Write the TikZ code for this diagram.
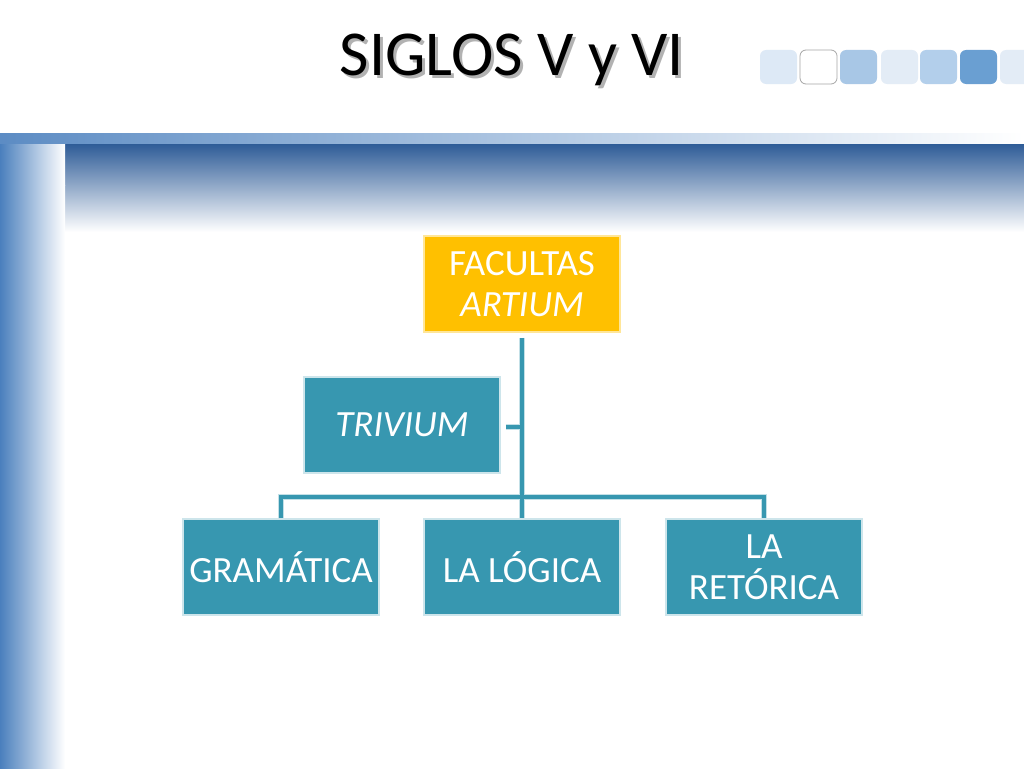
\documentclass[tikz,border=0pt]{standalone}
\usepackage{fontspec}
\setmainfont{Carlito}
\definecolor{teal1}{HTML}{3797B0}
\definecolor{gold1}{HTML}{FFC000}
\definecolor{dblue}{HTML}{2C5A96}
\definecolor{mblue}{HTML}{4A7FBD}
\definecolor{sq1}{HTML}{DDE9F6}
\definecolor{sq2}{HTML}{A8C7E6}
\definecolor{sq3}{HTML}{E3ECF6}
\definecolor{sq4}{HTML}{B3CFEB}
\definecolor{sq5}{HTML}{6A9FD2}
\begin{document}
\begin{tikzpicture}[x=1pt,y=-1pt,
  box/.style={draw=white!75!teal1,line width=1.5pt,fill=teal1,text=white,minimum width=196pt,minimum height=96pt,align=center,font=\fontsize{37}{41}\selectfont,inner sep=0pt},
  conn/.style={line width=6pt,draw=white!70!teal1},
  conni/.style={line width=3.5pt,draw=teal1}]
\useasboundingbox (0,0) rectangle (1024,768);
\fill[white] (0,0) rectangle (1024,768);
% background band
\shade[top color=dblue,bottom color=white] (0,143) rectangle (1024,232);
\shade[left color=mblue,right color=white] (0,185) rectangle (65,768);
\shade[left color=mblue,right color=white,middle color=mblue!50!white] (0,143) rectangle (65,185);
\fill[white] (65,232) rectangle (1024,768);
\shade[left color=mblue!90,right color=white] (0,133) rectangle (1024,143);
% squares
\foreach \x/\c in {760/sq1,840/sq2,881/sq3,920/sq4,960/sq5,1000/sq3}
  \fill[\c,rounded corners=6pt] (\x,50) rectangle ++(37,34);
\draw[gray!70,fill=white,line width=0.8pt,rounded corners=6pt] (800,50) rectangle ++(37,34);
% title
\node[font=\fontsize{64}{68}\selectfont,text=gray!60] at (515,63) {SIGLOS V y VI};
\node[font=\fontsize{64}{68}\selectfont] (t) at (512,60) {SIGLOS V y VI};
% nodes
\node[box,fill=gold1,draw=gold1!40!white] (fa) at (522,284) {FACULTAS\\\textit{ARTIUM}};
\node[box] (tr) at (402,425) {\textit{TRIVIUM}};
\node[box] (gr) at (281,567) {GRAMÁTICA};
\node[box] (lo) at (522,567) {LA LÓGICA};
\node[box] (re) at (764,567) {LA\\RETÓRICA};
\coordinate (j) at (522,497);
\coordinate (tj) at (522,427);
\foreach \s in {conn,conni}{
  \draw[\s] (fa.south) ++(0,5) -- (lo.north);
  \draw[\s] (gr.north) -- (gr.north |- j) -- (re.north |- j) -- (re.north);
  \draw[\s] (tr.east) ++(5,2) -- (tj);
}
\end{tikzpicture}
\end{document}
